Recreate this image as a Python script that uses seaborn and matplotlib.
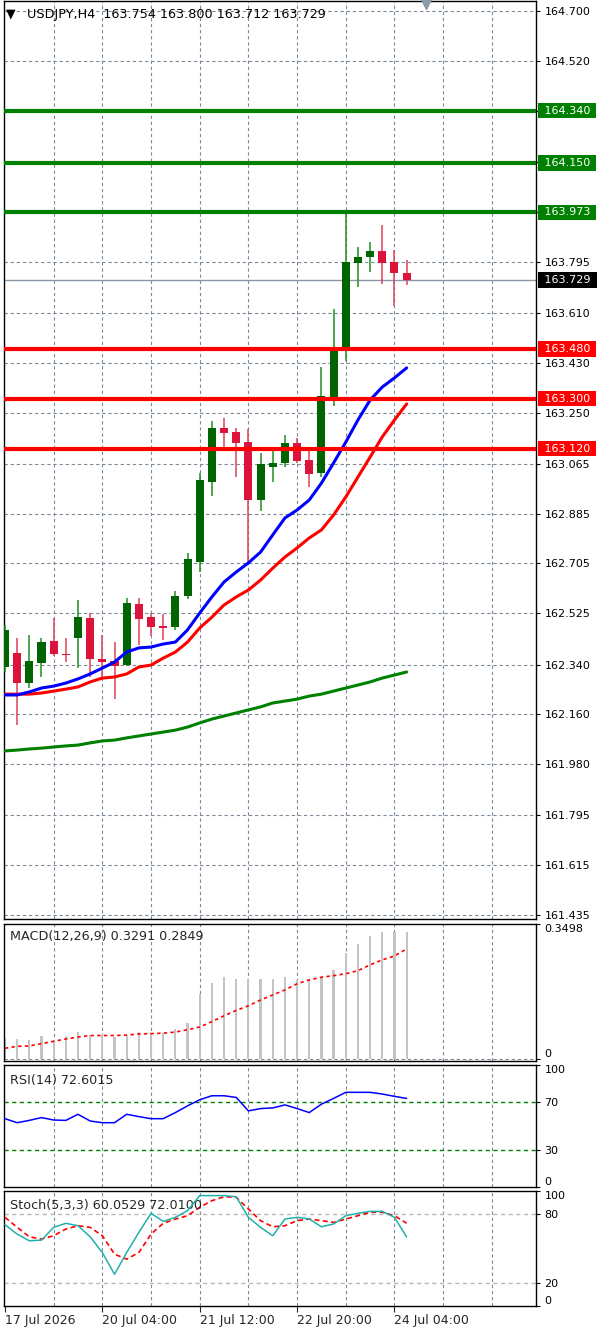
import numpy as np
import pandas as pd
import matplotlib
matplotlib.use("Agg")
import matplotlib.pyplot as plt
import seaborn as sns

# USDJPY H4 candles
opens = [162.331, 162.381, 162.273, 162.345, 162.425, 162.378, 162.436, 162.508, 162.360, 162.353,
         162.338, 162.558, 162.511, 162.479, 162.475, 162.587, 162.710, 162.999, 163.194, 163.180,
         163.143, 162.934, 163.053, 163.068, 163.140, 163.078, 163.032, 163.306, 163.479, 163.790,
         163.812, 163.833, 163.794, 163.754]
highs = [162.483, 162.436, 162.446, 162.436, 162.508, 162.436, 162.573, 162.526, 162.446, 162.421,
         162.580, 162.580, 162.526, 162.522, 162.605, 162.743, 163.032, 163.219, 163.230, 163.194,
         163.190, 163.104, 163.122, 163.169, 163.158, 163.125, 163.414, 163.624, 163.970, 163.848,
         163.866, 163.927, 163.837, 163.800]
lows = [162.313, 162.122, 162.255, 162.295, 162.371, 162.349, 162.327, 162.295, 162.291, 162.215,
        162.335, 162.410, 162.443, 162.428, 162.465, 162.577, 162.674, 162.949, 163.125, 163.017,
        162.707, 162.894, 162.999, 163.053, 163.068, 162.981, 163.017, 163.274, 163.436, 163.703,
        163.757, 163.714, 163.635, 163.712]
closes = [162.465, 162.273, 162.353, 162.421, 162.378, 162.374, 162.511, 162.360, 162.349, 162.335,
          162.562, 162.504, 162.475, 162.472, 162.587, 162.721, 163.006, 163.194, 163.176, 163.140,
          162.934, 163.064, 163.068, 163.140, 163.075, 163.028, 163.310, 163.479, 163.794, 163.812,
          163.833, 163.790, 163.754, 163.729]

ma_blue = [162.230, 162.230, 162.241, 162.255, 162.262, 162.273, 162.288, 162.306, 162.327, 162.349,
           162.385, 162.400, 162.403, 162.414, 162.421, 162.465, 162.526, 162.584, 162.638, 162.674,
           162.707, 162.746, 162.808, 162.869, 162.898, 162.934, 162.995, 163.068, 163.143, 163.223,
           163.295, 163.342, 163.375, 163.411]
ma_red = [162.233, 162.233, 162.233, 162.237, 162.244, 162.251, 162.259, 162.277, 162.291, 162.295,
          162.306, 162.331, 162.338, 162.363, 162.385, 162.421, 162.472, 162.511, 162.555, 162.584,
          162.609, 162.645, 162.688, 162.728, 162.761, 162.797, 162.826, 162.880, 162.945, 163.017,
          163.089, 163.162, 163.223, 163.281]
ma_green = [162.028, 162.031, 162.035, 162.038, 162.042, 162.046, 162.049, 162.057, 162.064, 162.067,
            162.075, 162.082, 162.089, 162.096, 162.103, 162.114, 162.129, 162.143, 162.154, 162.165,
            162.176, 162.187, 162.201, 162.208, 162.215, 162.226, 162.233, 162.244, 162.255, 162.266,
            162.277, 162.291, 162.302, 162.313]

macd_hist = [0.054, 0.052, 0.050, 0.059, 0.050, 0.059, 0.070, 0.063, 0.063, 0.056,
             0.060, 0.069, 0.067, 0.067, 0.078, 0.093, 0.169, 0.197, 0.212, 0.207,
             0.207, 0.207, 0.207, 0.212, 0.205, 0.201, 0.212, 0.231, 0.274, 0.298,
             0.319, 0.328, 0.328, 0.329]
macd_signal = [0.028, 0.033, 0.034, 0.040, 0.046, 0.052, 0.057, 0.061, 0.061, 0.061,
               0.062, 0.065, 0.066, 0.067, 0.070, 0.076, 0.083, 0.097, 0.112, 0.126,
               0.138, 0.153, 0.166, 0.179, 0.195, 0.205, 0.212, 0.216, 0.221, 0.229,
               0.244, 0.257, 0.267, 0.285]

rsi = [56.0, 52.7, 54.6, 56.9, 54.9, 54.6, 59.6, 54.1, 52.7, 52.7,
       59.6, 57.7, 56.0, 56.0, 61.0, 66.5, 71.5, 74.8, 74.8, 73.4,
       62.4, 64.3, 64.8, 67.3, 64.3, 61.0, 67.9, 72.6, 77.6, 77.6,
       77.6, 76.2, 74.3, 72.6]

stoch_k = [70.7, 62.5, 56.7, 57.3, 68.4, 71.9, 69.8, 60.2, 46.5, 27.6,
           46.5, 64.0, 80.6, 73.6, 77.1, 82.9, 96.0, 96.0, 96.0, 95.0,
           77.1, 68.4, 61.1, 75.6, 77.1, 75.6, 68.9, 71.3, 78.5, 80.6,
           82.3, 82.3, 77.1, 60.1]
stoch_d = [77.1, 68.4, 60.2, 58.2, 61.1, 66.9, 69.8, 68.4, 61.1, 45.1,
           40.7, 46.5, 62.5, 71.9, 75.6, 78.5, 85.8, 91.6, 95.0, 94.5,
           84.4, 74.2, 68.9, 69.8, 74.2, 75.6, 74.2, 72.7, 75.6, 78.5,
           81.5, 81.5, 78.5, 72.0]

price_ticks = [164.700, 164.520, 164.340, 164.155, 163.975, 163.795, 163.610, 163.430, 163.250,
               163.065, 162.885, 162.705, 162.525, 162.340, 162.160, 161.980, 161.795, 161.615, 161.435]
price_labels = ["164.700", "164.520", "", "", "", "163.795", "163.610", "163.430", "163.250",
                "163.065", "162.885", "162.705", "162.525", "162.340", "162.160", "161.980",
                "161.795", "161.615", "161.435"]
res_levels = [164.340, 164.150, 163.973]
sup_levels = [163.480, 163.300, 163.120]
last_price = 163.729
grid_bars = [4, 8, 12, 16, 20, 24, 28, 32, 36, 40]
date_bars = [0, 8, 16, 24, 32]
date_labels = ["17 Jul 2026", "20 Jul 04:00", "21 Jul 12:00", "22 Jul 20:00", "24 Jul 04:00"]

sns.set_theme(style="white")
plt.rcParams["font.family"] = ["DejaVu Sans"]
plt.rcParams["font.size"] = 8

df = pd.DataFrame({"bar": np.arange(len(closes)), "open": opens, "high": highs, "low": lows,
                   "close": closes, "blue": ma_blue, "red": ma_red, "green": ma_green,
                   "hist": macd_hist, "signal": macd_signal, "rsi": rsi,
                   "k": stoch_k, "d": stoch_d})

fig = plt.figure(figsize=(6, 13.32), dpi=100)
H = 1332.0
L, W = 4 / 600, 532 / 600


def panel(top, bottom):
    return fig.add_axes([L, 1 - bottom / H, W, (bottom - top) / H])


ax = panel(1, 919)
ax_macd = panel(924, 1061)
ax_rsi = panel(1065, 1187)
ax_st = panel(1191, 1306)

grid_col = "#7d8b99"
dash = (0, (3, 2.5))
xmin, xmax = -0.08, 43.63
title_fs = 9.2

for a in (ax, ax_macd, ax_rsi, ax_st):
    a.set_xlim(xmin, xmax)
    a.set_facecolor("white")
    for s in a.spines.values():
        s.set_color("black")
        s.set_linewidth(1)
    for g in grid_bars:
        a.axvline(g, color=grid_col, lw=0.8, ls=dash, zorder=0)
    a.yaxis.tick_right()
    a.tick_params(axis="y", length=3, width=0.8, pad=3, colors="black", labelsize=8, direction="out")
    a.set_xticks([])

# ---- main price panel
ax.set_ylim(161.421, 164.736)
for p in price_ticks:
    ax.axhline(p, color=grid_col, lw=0.8, ls=dash, zorder=0)
ax.set_yticks(price_ticks)
ax.set_yticklabels(price_labels)

up = df["close"] >= df["open"]
wick_col = np.where(up, "#1f8f1f", "#e0405a")
body_col = np.where(up, "#006400", "#dc143c")
ax.vlines(df["bar"], df["low"], df["high"], colors=wick_col, lw=1.1, zorder=3)
body_lo = np.minimum(df["open"], df["close"])
body_h = np.maximum(np.abs(df["close"] - df["open"]), 0.005)
ax.bar(df["bar"], body_h, bottom=body_lo, width=0.66, color=body_col, linewidth=0, zorder=4)

sns.lineplot(data=df, x="bar", y="green", ax=ax, color="#008000", lw=2.2, zorder=5)
sns.lineplot(data=df, x="bar", y="red", ax=ax, color="#ff0000", lw=2.2, zorder=5)
sns.lineplot(data=df, x="bar", y="blue", ax=ax, color="#0000ff", lw=2.2, zorder=5)

ax.axhline(last_price, color="#8a98a6", lw=1, zorder=2)
for lv in res_levels:
    ax.axhline(lv, color="#008000", lw=3, zorder=6)
for lv in sup_levels:
    ax.axhline(lv, color="#ff0000", lw=3, zorder=6)

tr = ax.get_yaxis_transform()
box = dict(boxstyle="square,pad=0.25")
tag_x = 1.009
for lv in res_levels:
    ax.text(tag_x, lv, f" {lv:.3f} ", transform=tr, va="center", ha="left", color="white",
            fontsize=8, bbox=dict(box, fc="#008000", ec="none"), clip_on=False, zorder=10)
for lv in sup_levels:
    ax.text(tag_x, lv, f" {lv:.3f} ", transform=tr, va="center", ha="left", color="white",
            fontsize=8, bbox=dict(box, fc="#ff0000", ec="none"), clip_on=False, zorder=10)
ax.text(tag_x, last_price, f" {last_price:.3f} ", transform=tr, va="center", ha="left", color="white",
        fontsize=8, bbox=dict(box, fc="black", ec="none"), clip_on=False, zorder=10)

ax.text(0.003, 0.9855, "\u25bc", transform=ax.transAxes, fontsize=9, va="center", ha="left", color="black")
ax.text(0.044, 0.9855, "USDJPY,H4  163.754 163.800 163.712 163.729", transform=ax.transAxes,
        fontsize=title_fs, va="center", ha="left", color="black")
ax.plot([34.6], [164.725], marker="v", ms=7, color="#8a9aaa", clip_on=False, zorder=10)
ax.set_xlabel("")
ax.set_ylabel("")

# ---- MACD
ax_macd.set_ylim(-0.005, 0.349)
ax_macd.axhline(0, color=grid_col, lw=0.8, ls=dash, zorder=0)
ax_macd.bar(df["bar"], df["hist"], width=0.18, color="#c4c4c4", linewidth=0, zorder=2)
sns.lineplot(data=df, x="bar", y="signal", ax=ax_macd, color="#ff0000", lw=1.2,
             linestyle=(0, (2, 2)), zorder=3)
ax_macd.set_yticks([0.3498, 0])
ax_macd.set_yticklabels(["0.3498", "0"])
ax_macd.get_yticklabels()[0].set_va("top")
ax_macd.get_yticklabels()[1].set_va("bottom")
ax_macd.text(0.011, 0.91, "MACD(12,26,9) 0.3291 0.2849", transform=ax_macd.transAxes,
             fontsize=title_fs, va="center", ha="left")

# ---- RSI
ax_rsi.set_ylim(0, 100)
for lv in (70, 30):
    ax_rsi.axhline(lv, color="#008000", lw=1, ls=(0, (3, 2.5)), zorder=1)
sns.lineplot(data=df, x="bar", y="rsi", ax=ax_rsi, color="#0000ff", lw=1.1, zorder=3)
ax_rsi.set_yticks([100, 70, 30, 0])
ax_rsi.set_yticklabels(["100", "70", "30", "0"])
ax_rsi.get_yticklabels()[0].set_va("top")
ax_rsi.get_yticklabels()[3].set_va("bottom")
ax_rsi.text(0.011, 0.875, "RSI(14) 72.6015", transform=ax_rsi.transAxes, fontsize=title_fs,
            va="center", ha="left")

# ---- Stochastic
ax_st.set_ylim(0, 100)
for lv in (80, 20):
    ax_st.axhline(lv, color="#b8b8b8", lw=1, ls=(0, (3, 2.5)), zorder=1)
sns.lineplot(data=df, x="bar", y="d", ax=ax_st, color="#ff0000", lw=1.2, linestyle=(0, (3, 2)), zorder=3)
sns.lineplot(data=df, x="bar", y="k", ax=ax_st, color="#20b2aa", lw=1.1, zorder=4)
ax_st.set_yticks([100, 80, 20, 0])
ax_st.set_yticklabels(["100", "80", "20", "0"])
ax_st.get_yticklabels()[0].set_va("top")
ax_st.get_yticklabels()[3].set_va("bottom")
ax_st.text(0.011, 0.875, "Stoch(5,3,3) 60.0529 72.0100", transform=ax_st.transAxes,
           fontsize=title_fs, va="center", ha="left")
ax_st.set_xticks(date_bars)
ax_st.set_xticklabels(date_labels, ha="left")
ax_st.tick_params(axis="x", bottom=True, length=4, width=0.8, pad=2, labelsize=9, direction="out")

for a in (ax, ax_macd, ax_rsi, ax_st):
    a.set_xlabel("")
    a.set_ylabel("")
    a.set_xlim(xmin, xmax)

fig.savefig("out.png", dpi=100, facecolor="white")
